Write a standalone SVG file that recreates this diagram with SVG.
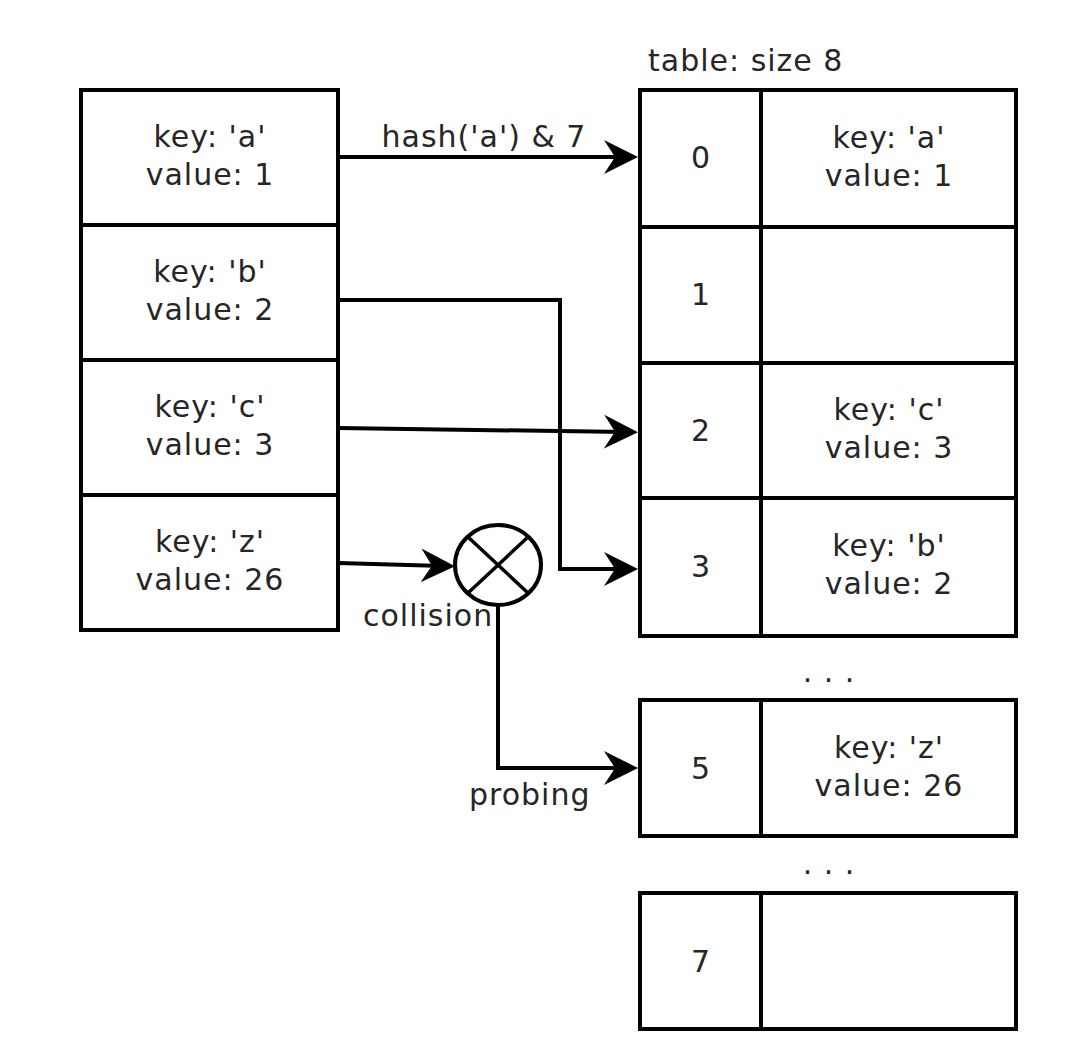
<svg xmlns="http://www.w3.org/2000/svg" width="1086" height="1052" viewBox="0 0 1086 1052">
<style>
.box{fill:#fff;stroke:#000;stroke-width:4}
.t{font-family:"DejaVu Sans","Liberation Sans",sans-serif;font-size:30px;fill:#262626;text-anchor:middle;letter-spacing:1px}
.tl{font-family:"DejaVu Sans","Liberation Sans",sans-serif;font-size:30px;fill:#262626;letter-spacing:1px}
.c{fill:none;stroke:#000;stroke-width:4}
</style>
<defs>
<marker id="arr" markerUnits="userSpaceOnUse" markerWidth="36" markerHeight="36" viewBox="0 0 36 36" refX="22" refY="18" orient="auto">
<path d="M0,1 L34,18 L0,35 L11,18 Z" fill="#000"/>
</marker>
</defs>
<rect width="1086" height="1052" fill="#fff"/>

<g id="input-a"><rect class="box" x="81" y="90" width="257" height="135"/><text class="t" x="210" y="147">key: 'a'</text><text class="t" x="210" y="185">value: 1</text></g>
<g id="input-b"><rect class="box" x="81" y="225" width="257" height="135"/><text class="t" x="210" y="282">key: 'b'</text><text class="t" x="210" y="320">value: 2</text></g>
<g id="input-c"><rect class="box" x="81" y="360" width="257" height="135"/><text class="t" x="210" y="417">key: 'c'</text><text class="t" x="210" y="455">value: 3</text></g>
<g id="input-z"><rect class="box" x="81" y="495" width="257" height="135"/><text class="t" x="210" y="552">key: 'z'</text><text class="t" x="210" y="590">value: 26</text></g>

<text id="table-title" class="tl" x="648" y="71">table: size 8</text>

<g id="slot-0"><rect class="box" x="640" y="90" width="121" height="137"/><rect class="box" x="761" y="90" width="255" height="137"/><text class="t" x="701" y="168">0</text><text class="t" x="889" y="148">key: 'a'</text><text class="t" x="889" y="186">value: 1</text></g>
<g id="slot-1"><rect class="box" x="640" y="227" width="121" height="136"/><rect class="box" x="761" y="227" width="255" height="136"/><text class="t" x="701" y="305">1</text></g>
<g id="slot-2"><rect class="box" x="640" y="363" width="121" height="135"/><rect class="box" x="761" y="363" width="255" height="135"/><text class="t" x="701" y="441">2</text><text class="t" x="889" y="420">key: 'c'</text><text class="t" x="889" y="458">value: 3</text></g>
<g id="slot-3"><rect class="box" x="640" y="498" width="121" height="138"/><rect class="box" x="761" y="498" width="255" height="138"/><text class="t" x="701" y="577">3</text><text class="t" x="889" y="556">key: 'b'</text><text class="t" x="889" y="594">value: 2</text></g>
<text id="ellipsis-1" class="t" x="829" y="682">. . .</text>
<g id="slot-5"><rect class="box" x="640" y="700" width="121" height="136"/><rect class="box" x="761" y="700" width="255" height="136"/><text class="t" x="701" y="779">5</text><text class="t" x="889" y="758">key: 'z'</text><text class="t" x="889" y="796">value: 26</text></g>
<text id="ellipsis-2" class="t" x="829" y="874">. . .</text>
<g id="slot-7"><rect class="box" x="640" y="893" width="121" height="136"/><rect class="box" x="761" y="893" width="255" height="136"/><text class="t" x="701" y="972">7</text></g>

<g id="collision-node">
<ellipse cx="498" cy="565" rx="43" ry="40" fill="#fff" stroke="#000" stroke-width="4"/>
<path d="M468,537 L528,593 M528,537 L468,593" stroke="#000" stroke-width="3.5"/>
</g>

<g id="connectors">
<path class="c" d="M338,157 H626" marker-end="url(#arr)"/>
<path class="c" d="M338,300 H560 V569 H626" marker-end="url(#arr)"/>
<path class="c" d="M338,428 L626,432" marker-end="url(#arr)"/>
<path class="c" d="M338,563 L443,566" marker-end="url(#arr)"/>
<path class="c" d="M498,605 V768 H626" marker-end="url(#arr)"/>
<text class="t" x="484" y="147">hash('a') &amp; 7</text>
<text class="tl" x="363" y="626">collision</text>
<text class="tl" x="469" y="805">probing</text>
</g>
</svg>
